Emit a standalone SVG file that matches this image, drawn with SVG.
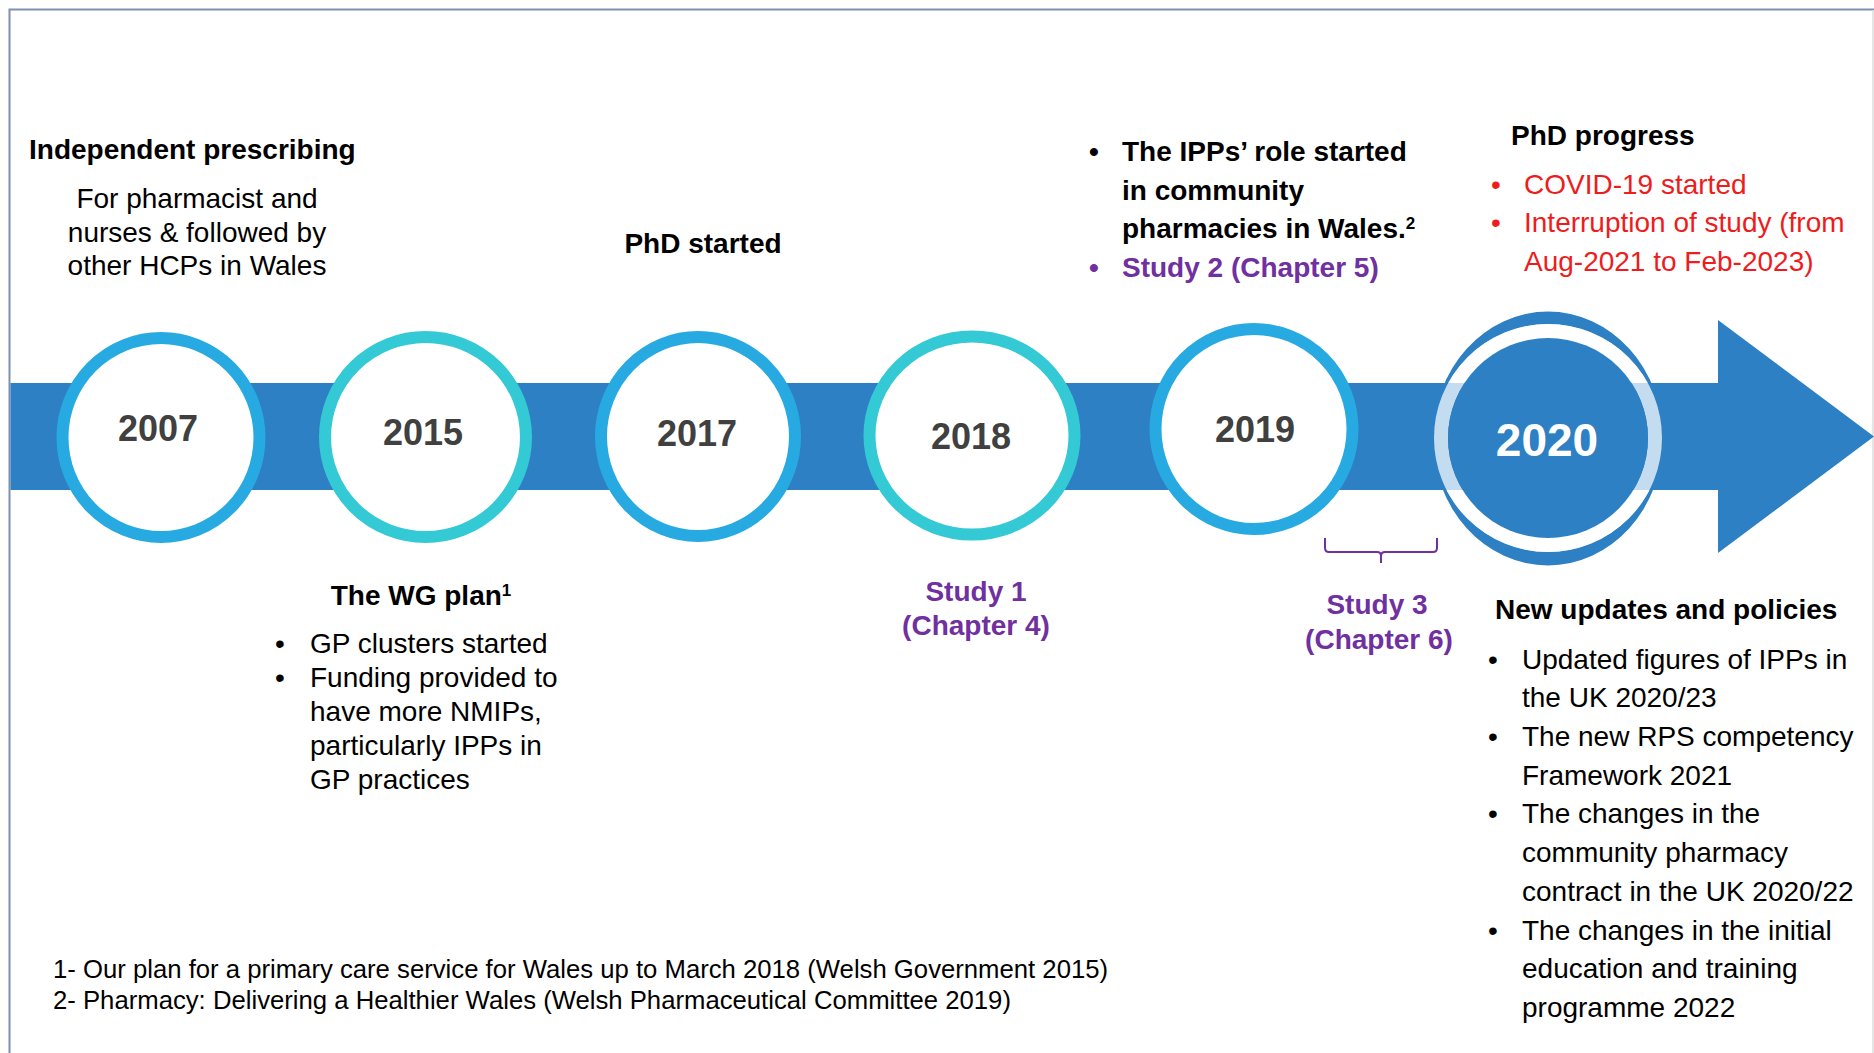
<svg xmlns="http://www.w3.org/2000/svg" width="1874" height="1053" viewBox="0 0 1874 1053">
  <style>
    text { font-family: "Liberation Sans", Arial, sans-serif; }
    .b { font-weight: bold; }
    .t { font-size: 28px; fill: #000; }
    .fn { font-size: 25.7px; fill: #000; }
    .year { font-size: 36px; font-weight: bold; fill: #404040; text-anchor: middle; }
    .c { text-anchor: middle; }
    .purple { fill: #7030a0; }
    .red { fill: #ee1c1c; }
    .ring-blue { fill: #fff; stroke: #27aae1; stroke-width: 12; }
    .ring-teal { fill: #fff; stroke: #33c9d5; stroke-width: 12; }
    .sup { font-size: 17px; }
  </style>

  <rect x="0" y="0" width="1874" height="1053" fill="#fff"/>
  <!-- frame -->
  <path d="M9.5,1053 V9.5 H1874" fill="none" stroke="#7d90b0" stroke-width="2"/>
  <line x1="1873" y1="10" x2="1873" y2="1053" stroke="#dcdcdc" stroke-width="1.5"/>

  <!-- timeline band, arrowhead and study bracket -->
  <g id="connectors">
    <rect x="10.5" y="383" width="1710" height="107" fill="#2e80c5"/>
    <polygon points="1718,320 1874,436.5 1718,553" fill="#2e80c5"/>
    <path d="M1325,538 V548 Q1325,552 1329,552 H1377 Q1381,552 1381,556 V563 M1381,556 Q1381,552 1385,552 H1433 Q1437,552 1437,548 V538" fill="none" stroke="#7030a0" stroke-width="2"/>
  </g>

  <!-- 2007 -->
  <g id="node-2007">
    <ellipse class="ring-blue" cx="161" cy="437.5" rx="98.5" ry="99.5"/>
    <text class="year" x="158" y="441">2007</text>
    <text class="t b" x="29" y="159">Independent prescribing</text>
    <text class="t c" x="197" y="208">For pharmacist and</text>
    <text class="t c" x="197" y="242">nurses &amp; followed by</text>
    <text class="t c" x="197" y="275">other HCPs in Wales</text>
  </g>

  <!-- 2015 -->
  <g id="node-2015">
    <ellipse class="ring-teal" cx="425.5" cy="437" rx="100.5" ry="100"/>
    <text class="year" x="423" y="445">2015</text>
    <text class="t b c" x="421" y="605">The WG plan<tspan class="sup" baseline-shift="super">1</tspan></text>
    <text class="t" x="275" y="653">•</text>
    <text class="t" x="310" y="653">GP clusters started</text>
    <text class="t" x="275" y="687">•</text>
    <text class="t" x="310" y="687">Funding provided to</text>
    <text class="t" x="310" y="721">have more NMIPs,</text>
    <text class="t" x="310" y="755">particularly IPPs in</text>
    <text class="t" x="310" y="789">GP practices</text>
  </g>

  <!-- 2017 -->
  <g id="node-2017">
    <ellipse class="ring-blue" cx="698" cy="436.5" rx="97" ry="99.5"/>
    <text class="year" x="697" y="446">2017</text>
    <text class="t b c" x="703" y="253">PhD started</text>
  </g>

  <!-- 2018 -->
  <g id="node-2018">
    <ellipse class="ring-teal" cx="972" cy="435.5" rx="102.5" ry="99"/>
    <text class="year" x="971" y="449">2018</text>
    <text class="t b c purple" x="976" y="601">Study 1</text>
    <text class="t b c purple" x="976" y="635">(Chapter 4)</text>
  </g>

  <!-- 2019 -->
  <g id="node-2019">
    <ellipse class="ring-blue" cx="1254" cy="429" rx="98.5" ry="100"/>
    <text class="year" x="1255" y="442">2019</text>
    <text class="t b" x="1089" y="161">•</text>
    <text class="t b" x="1122" y="161">The IPPs’ role started</text>
    <text class="t b" x="1122" y="200">in community</text>
    <text class="t b" x="1122" y="238">pharmacies in Wales.<tspan class="sup" baseline-shift="super">2</tspan></text>
    <text class="t b purple" x="1089" y="277">•</text>
    <text class="t b purple" x="1122" y="277">Study 2 (Chapter 5)</text>
    <text class="t b c purple" x="1377" y="614">Study 3</text>
    <text class="t b c purple" x="1379" y="649">(Chapter 6)</text>
  </g>

  <!-- 2020 -->
  <g id="node-2020">
    <path d="M1433,438.5 A115,127 0 1,0 1663,438.5 A115,127 0 1,0 1433,438.5 Z M1434,438 A114,114 0 1,1 1662,438 A114,114 0 1,1 1434,438 Z" fill="#2e80c5" fill-rule="evenodd"/>
    <circle cx="1548" cy="438" r="107" fill="none" stroke="#fff" stroke-opacity="0.72" stroke-width="14"/>
    <circle cx="1548" cy="438" r="100" fill="#2e80c5"/>
    <text x="1547" y="456" font-size="46" font-weight="bold" fill="#fff" text-anchor="middle">2020</text>
    <text class="t b" x="1511" y="145">PhD progress</text>
    <text class="t red" x="1491" y="194">•</text>
    <text class="t red" x="1524" y="194">COVID-19 started</text>
    <text class="t red" x="1491" y="232">•</text>
    <text class="t red" x="1524" y="232">Interruption of study (from</text>
    <text class="t red" x="1524" y="271">Aug-2021 to Feb-2023)</text>
    <text class="t b" x="1495" y="619">New updates and policies</text>
    <text class="t" x="1488" y="669">•</text>
    <text class="t" x="1522" y="669">Updated figures of IPPs in</text>
    <text class="t" x="1522" y="707">the UK 2020/23</text>
    <text class="t" x="1488" y="746">•</text>
    <text class="t" x="1522" y="746">The new RPS competency</text>
    <text class="t" x="1522" y="785">Framework 2021</text>
    <text class="t" x="1488" y="823">•</text>
    <text class="t" x="1522" y="823">The changes in the</text>
    <text class="t" x="1522" y="862">community pharmacy</text>
    <text class="t" x="1522" y="901">contract in the UK 2020/22</text>
    <text class="t" x="1488" y="940">•</text>
    <text class="t" x="1522" y="940">The changes in the initial</text>
    <text class="t" x="1522" y="978">education and training</text>
    <text class="t" x="1522" y="1017">programme 2022</text>
  </g>

  <!-- references -->
  <g id="footnotes">
    <text class="fn" x="53" y="978">1- Our plan for a primary care service for Wales up to March 2018 (Welsh Government 2015)</text>
    <text class="fn" x="53" y="1009">2- Pharmacy: Delivering a Healthier Wales (Welsh Pharmaceutical Committee 2019)</text>
  </g>
</svg>
